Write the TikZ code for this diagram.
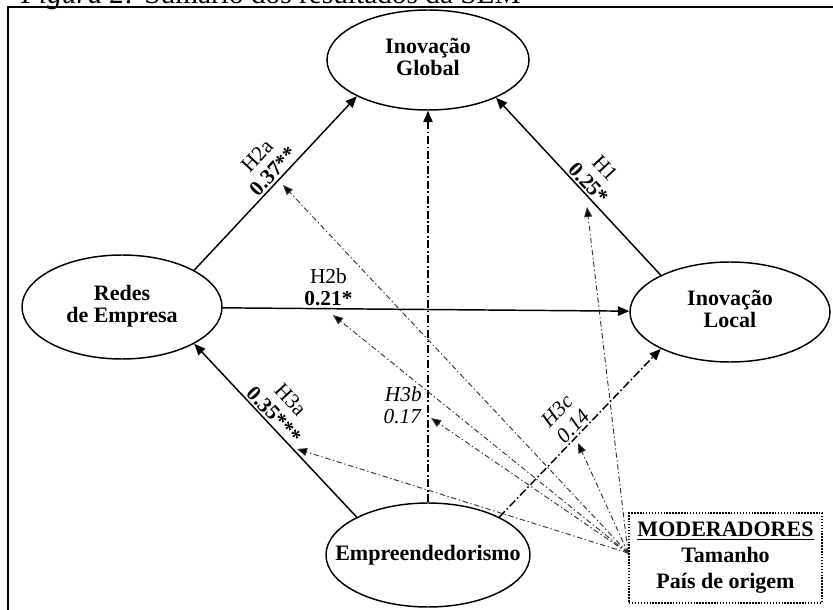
\documentclass[tikz,border=0pt]{standalone}
\usepackage{fontspec}
\setmainfont{Liberation Serif}
\usetikzlibrary{shapes.geometric,arrows.meta,calc}
\newcommand{\twoln}[2]{\makebox[0pt]{\begin{tabular}{@{}c@{}}#1\\#2\end{tabular}}}
\begin{document}
\begin{tikzpicture}[x=0.75pt,y=-0.75pt,
  latent/.style={draw, line width=1.1pt, ellipse, inner sep=0pt,
    font=\fontsize{16.5pt}{16.5pt}\selectfont\bfseries},
  solidarrow/.style={line width=1.1pt, -{Triangle[length=8.5pt,width=7pt]}},
  dasharrow/.style={solidarrow, dash pattern=on 6pt off 2pt on 1.2pt off 2pt},
  modarrow/.style={line width=0.7pt, draw=black!80, dash pattern=on 4pt off 2pt on 1pt off 2pt,
    -{Triangle[length=7.5pt,width=6pt,fill=black]}},
  lab/.style={font=\fontsize{16pt}{16.5pt}\selectfont, align=center, inner sep=1.5pt}
]
\useasboundingbox (0,0) rectangle (833,610);

% caption (cut off at the top) and frame
\node[anchor=base west, inner sep=0pt, font=\fontsize{22pt}{26pt}\selectfont] (cap) at (21,4)
  {\textit{Figura 2:} Sumário dos resultados da SEM};
\draw[line width=1.6pt] (8,620) -- (8,7) -- (845,7);

% constructs
\node[latent, minimum width=151.5pt, minimum height=75pt] (global) at (428,60) {\twoln{Inovação}{Global}};
\node[latent, minimum width=150pt, minimum height=78pt] (redes) at (122,307) {\twoln{Redes}{de Empresa}};
\node[latent, minimum width=150pt, minimum height=75pt] (local) at (730,312) {\twoln{Inovação}{Local}};
\node[latent, minimum width=153pt, minimum height=78pt] (emp) at (428,555) {\makebox[0pt]{Empreendedorismo}};

\node[draw, line width=1.1pt, dash pattern=on 1.1pt off 1.1pt, minimum width=144.75pt, minimum height=67.5pt,
  inner sep=1pt, align=center, font=\fontsize{16.5pt}{19.5pt}\selectfont\bfseries] (mod) at (725.5,558)
  {\underline{MODERADORES}\\Tamanho\\País de origem};

% direct paths
\draw[solidarrow] (redes.27.5) -- node[lab, sloped, above, pos=0.53] (l2a) {H2a\\\textbf{0.37**}} (global.207.8);
\draw[solidarrow] (local.152.8) -- node[lab, sloped, above, pos=0.48] (l1) {H1\\\textbf{0.25*}} (global.331.8);
\draw[solidarrow] (redes) -- node[lab, above, pos=0.26] (l2b) {H2b\\\textbf{0.21*}} (local);
\draw[solidarrow] (emp.152.8) -- node[lab, sloped, above, pos=0.55] (l3a) {H3a\\\textbf{0.35***}} (redes.333.1);
\draw[dasharrow] (emp.north) -- (global.south);
\draw[dasharrow] (emp.28.2) -- node[lab, sloped, above, pos=0.5] (l3c) {\textit{H3c}\\\textit{0.14}} (local.208.7);
\node[lab, anchor=east, align=right] (l3b) at (424,405) {\textit{H3b}\\\textit{0.17}};

% moderation paths
\coordinate (mc) at (628,553);
\coordinate (t1) at (283,185);
\coordinate (t2) at (587,207);
\coordinate (t3) at (333,315);
\coordinate (t4) at (431,418);
\coordinate (t5) at (297,449);
\coordinate (t6) at (578,443);
\foreach \t in {t1,t2,t3,t4,t5,t6} \draw[modarrow] (mc) -- (\t);
\end{tikzpicture}
\end{document}
